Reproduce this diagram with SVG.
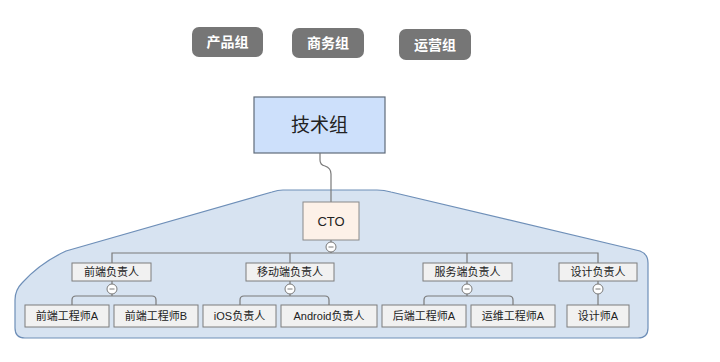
<svg xmlns="http://www.w3.org/2000/svg" width="720" height="362" viewBox="0 0 720 362">
<style>
text{font-family:"Liberation Sans","Noto Sans CJK SC",sans-serif;text-anchor:middle;dominant-baseline:central}
.pill{fill:#767676}
.pt{fill:#fff;font-size:14px;font-weight:bold}
.node{fill:#f1f1f1;stroke:#7d7d7d;stroke-width:1}
.nt{fill:#222;font-size:11px}
.ln{fill:none;stroke:#7a7a7a;stroke-width:1.2}
.col{fill:#fff;stroke:#7a7a7a;stroke-width:1}
.mn{stroke:#7a7a7a;stroke-width:1}
</style>
<rect width="720" height="362" fill="#fff"/>
<g id="product"><rect class="pill" x="192" y="27" width="71" height="30" rx="7"/><text class="pt" x="227.5" y="42">产品组</text></g>
<g id="business"><rect class="pill" x="292" y="28" width="72" height="30" rx="7"/><text class="pt" x="328" y="43">商务组</text></g>
<g id="ops"><rect class="pill" x="399" y="29" width="72" height="31" rx="7"/><text class="pt" x="435" y="45">运营组</text></g>
<g id="boundary"><path d="M283 190 L377 190 Q384 190 391 192 L640 251 Q648 254 648 263 L648 328 Q648 338 638 338 L25 338 Q15 338 15 328 L15 300 Q15 290 22 283 Q40 263 66 251 L272 192 Q278 190 283 190 Z" fill="#d7e3f1" stroke="#6e8fb8" stroke-width="1.2"/></g>
<g id="tech"><rect x="254" y="97" width="131" height="56" fill="#cde0fb" stroke="#5f6b7a" stroke-width="1.2"/><text x="319.5" y="125" fill="#222" font-size="19">技术组</text></g>
<g id="connectors">
<path class="ln" d="M320 153 V160 Q320 165 325 166 Q331 168 331 174 V202"/>
<path class="ln" d="M331 240 V253 M112 263 V253 H598 V263 M290 253 V263 M467 253 V263"/>
<path class="ln" d="M112 281 V296 M72 305 V300 Q72 296 76 296 H152 Q156 296 156 300 V305"/>
<path class="ln" d="M290 281 V296 M240 305 V300 Q240 296 244 296 H325 Q329 296 329 300 V305"/>
<path class="ln" d="M467 281 V296 M424 305 V300 Q424 296 428 296 H509 Q513 296 513 300 V305"/>
<path class="ln" d="M598 281 V305"/>
<circle class="col" cx="331" cy="247" r="5"/><path class="mn" d="M328.5 247 H333.5"/>
<circle class="col" cx="112" cy="289" r="5"/><path class="mn" d="M109.5 289 H114.5"/>
<circle class="col" cx="290" cy="289" r="5"/><path class="mn" d="M287.5 289 H292.5"/>
<circle class="col" cx="467" cy="289" r="5"/><path class="mn" d="M464.5 289 H469.5"/>
<circle class="col" cx="598" cy="289" r="5"/><path class="mn" d="M595.5 289 H600.5"/>
</g>
<g id="cto"><rect x="303" y="202" width="56" height="38" fill="#fdf1e8" stroke="#8a8a8a" stroke-width="1"/><text x="331" y="221" fill="#222" font-size="13">CTO</text></g>
<g id="fe-lead"><rect class="node" x="72" y="263" width="79" height="18"/><text class="nt" x="111.5" y="272">前端负责人</text></g>
<g id="mobile-lead"><rect class="node" x="246" y="263" width="88" height="18"/><text class="nt" x="290" y="272">移动端负责人</text></g>
<g id="server-lead"><rect class="node" x="423" y="263" width="89" height="18"/><text class="nt" x="467.5" y="272">服务端负责人</text></g>
<g id="design-lead"><rect class="node" x="559" y="263" width="78" height="18"/><text class="nt" x="598" y="272">设计负责人</text></g>
<g id="fe-a"><rect class="node" x="25" y="305" width="84" height="22"/><text class="nt" x="67" y="316">前端工程师A</text></g>
<g id="fe-b"><rect class="node" x="114" y="305" width="84" height="22"/><text class="nt" x="156" y="316">前端工程师B</text></g>
<g id="ios"><rect class="node" x="203" y="305" width="73" height="22"/><text class="nt" x="239.5" y="316">iOS负责人</text></g>
<g id="android"><rect class="node" x="281" y="305" width="96" height="22"/><text class="nt" x="329" y="316">Android负责人</text></g>
<g id="be-a"><rect class="node" x="382" y="305" width="84" height="22"/><text class="nt" x="424" y="316">后端工程师A</text></g>
<g id="ops-a"><rect class="node" x="471" y="305" width="84" height="22"/><text class="nt" x="513" y="316">运维工程师A</text></g>
<g id="designer-a"><rect class="node" x="567" y="305" width="62" height="22"/><text class="nt" x="598" y="316">设计师A</text></g>
</svg>
